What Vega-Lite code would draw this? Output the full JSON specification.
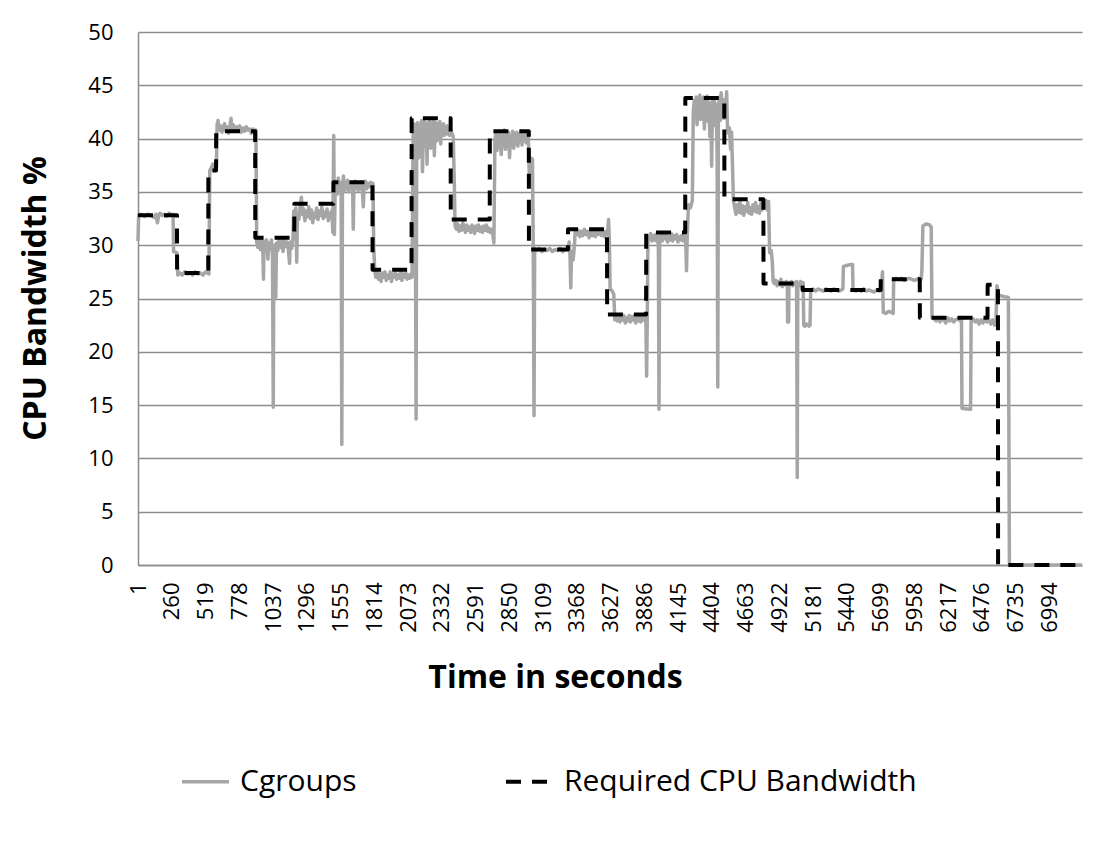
{
  "$schema": "https://vega.github.io/schema/vega-lite/v6.json",
  "width": 944,
  "height": 533,
  "autosize": {"type": "none"},
  "padding": {"left": 138, "top": 32, "right": 32, "bottom": 285},
  "background": "white",
  "config": {
    "font": "Open Sans",
    "view": {"stroke": null},
    "axis": {"labelColor": "black", "titleColor": "black"}
  },
  "data": {"values": [
{"s":"Cgroups","t":1,"v":30.4},{"s":"Cgroups","t":6,"v":32.8},{"s":"Cgroups","t":25,"v":32.9},{"s":"Cgroups","t":50,"v":32.7},{"s":"Cgroups","t":75,"v":32.9},{"s":"Cgroups","t":100,"v":32.8},{"s":"Cgroups","t":125,"v":32.6},{"s":"Cgroups","t":140,"v":32.9},{"s":"Cgroups","t":150,"v":32.1},{"s":"Cgroups","t":158,"v":32.7},{"s":"Cgroups","t":170,"v":33.0},{"s":"Cgroups","t":185,"v":32.8},{"s":"Cgroups","t":200,"v":32.9},{"s":"Cgroups","t":220,"v":32.7},{"s":"Cgroups","t":240,"v":33.0},{"s":"Cgroups","t":260,"v":32.8},{"s":"Cgroups","t":270,"v":32.9},{"s":"Cgroups","t":274,"v":29.4},{"s":"Cgroups","t":300,"v":29.3},{"s":"Cgroups","t":306,"v":27.2},
{"s":"Cgroups","t":320,"v":27.4},{"s":"Cgroups","t":340,"v":27.2},{"s":"Cgroups","t":360,"v":27.5},{"s":"Cgroups","t":380,"v":27.3},{"s":"Cgroups","t":400,"v":27.4},{"s":"Cgroups","t":420,"v":27.2},{"s":"Cgroups","t":440,"v":27.5},{"s":"Cgroups","t":460,"v":27.3},{"s":"Cgroups","t":480,"v":27.4},{"s":"Cgroups","t":500,"v":27.2},{"s":"Cgroups","t":520,"v":27.5},{"s":"Cgroups","t":545,"v":27.3},{"s":"Cgroups","t":552,"v":37.0},{"s":"Cgroups","t":565,"v":37.3},{"s":"Cgroups","t":575,"v":37.6},{"s":"Cgroups","t":590,"v":37.2},{"s":"Cgroups","t":603,"v":37.5},{"s":"Cgroups","t":608,"v":41.3},
{"s":"Cgroups","t":615,"v":41.7},{"s":"Cgroups","t":625,"v":40.8},{"s":"Cgroups","t":635,"v":41.2},{"s":"Cgroups","t":645,"v":40.6},{"s":"Cgroups","t":655,"v":41.0},{"s":"Cgroups","t":665,"v":41.4},{"s":"Cgroups","t":675,"v":40.7},{"s":"Cgroups","t":685,"v":41.1},{"s":"Cgroups","t":695,"v":40.5},{"s":"Cgroups","t":705,"v":41.0},{"s":"Cgroups","t":715,"v":41.9},{"s":"Cgroups","t":722,"v":40.9},{"s":"Cgroups","t":732,"v":41.3},{"s":"Cgroups","t":745,"v":40.7},{"s":"Cgroups","t":758,"v":41.1},{"s":"Cgroups","t":770,"v":40.8},{"s":"Cgroups","t":782,"v":41.2},{"s":"Cgroups","t":795,"v":40.6},{"s":"Cgroups","t":808,"v":41.0},{"s":"Cgroups","t":820,"v":40.7},{"s":"Cgroups","t":832,"v":41.1},{"s":"Cgroups","t":845,"v":40.8},{"s":"Cgroups","t":858,"v":40.9},{"s":"Cgroups","t":870,"v":40.5},{"s":"Cgroups","t":882,"v":40.9},{"s":"Cgroups","t":895,"v":40.6},{"s":"Cgroups","t":906,"v":40.8},{"s":"Cgroups","t":912,"v":30.3},
{"s":"Cgroups","t":920,"v":29.8},{"s":"Cgroups","t":930,"v":30.6},{"s":"Cgroups","t":940,"v":29.6},{"s":"Cgroups","t":950,"v":30.5},{"s":"Cgroups","t":958,"v":30.0},{"s":"Cgroups","t":964,"v":26.8},{"s":"Cgroups","t":968,"v":30.4},{"s":"Cgroups","t":978,"v":29.5},{"s":"Cgroups","t":988,"v":30.5},{"s":"Cgroups","t":998,"v":28.7},{"s":"Cgroups","t":1005,"v":30.2},{"s":"Cgroups","t":1015,"v":29.6},{"s":"Cgroups","t":1025,"v":30.5},{"s":"Cgroups","t":1033,"v":29.2},{"s":"Cgroups","t":1039,"v":14.8},{"s":"Cgroups","t":1044,"v":30.0},{"s":"Cgroups","t":1052,"v":29.3},{"s":"Cgroups","t":1058,"v":25.1},{"s":"Cgroups","t":1064,"v":30.2},{"s":"Cgroups","t":1074,"v":29.5},{"s":"Cgroups","t":1084,"v":30.6},{"s":"Cgroups","t":1094,"v":29.8},{"s":"Cgroups","t":1104,"v":30.4},{"s":"Cgroups","t":1114,"v":29.4},{"s":"Cgroups","t":1124,"v":30.5},{"s":"Cgroups","t":1134,"v":29.9},{"s":"Cgroups","t":1144,"v":30.3},{"s":"Cgroups","t":1154,"v":29.6},{"s":"Cgroups","t":1164,"v":28.3},{"s":"Cgroups","t":1170,"v":30.3},{"s":"Cgroups","t":1180,"v":29.7},{"s":"Cgroups","t":1190,"v":30.6},{"s":"Cgroups","t":1196,"v":33.2},
{"s":"Cgroups","t":1205,"v":32.8},{"s":"Cgroups","t":1212,"v":33.5},{"s":"Cgroups","t":1219,"v":28.4},{"s":"Cgroups","t":1225,"v":33.0},{"s":"Cgroups","t":1235,"v":32.4},{"s":"Cgroups","t":1245,"v":33.6},{"s":"Cgroups","t":1255,"v":34.5},{"s":"Cgroups","t":1262,"v":32.9},{"s":"Cgroups","t":1272,"v":33.4},{"s":"Cgroups","t":1282,"v":32.3},{"s":"Cgroups","t":1292,"v":33.2},{"s":"Cgroups","t":1302,"v":32.7},{"s":"Cgroups","t":1312,"v":33.6},{"s":"Cgroups","t":1322,"v":32.5},{"s":"Cgroups","t":1332,"v":33.3},{"s":"Cgroups","t":1342,"v":32.1},{"s":"Cgroups","t":1352,"v":33.0},{"s":"Cgroups","t":1362,"v":32.6},{"s":"Cgroups","t":1372,"v":33.5},{"s":"Cgroups","t":1382,"v":32.4},{"s":"Cgroups","t":1392,"v":33.2},{"s":"Cgroups","t":1402,"v":32.8},{"s":"Cgroups","t":1412,"v":33.6},{"s":"Cgroups","t":1422,"v":32.5},{"s":"Cgroups","t":1432,"v":33.1},{"s":"Cgroups","t":1442,"v":32.7},{"s":"Cgroups","t":1452,"v":33.4},{"s":"Cgroups","t":1462,"v":32.3},{"s":"Cgroups","t":1472,"v":33.0},{"s":"Cgroups","t":1482,"v":32.6},{"s":"Cgroups","t":1490,"v":33.3},{"s":"Cgroups","t":1496,"v":31.2},{"s":"Cgroups","t":1503,"v":40.3},{"s":"Cgroups","t":1508,"v":31.0},{"s":"Cgroups","t":1514,"v":35.0},
{"s":"Cgroups","t":1522,"v":35.6},{"s":"Cgroups","t":1530,"v":34.8},{"s":"Cgroups","t":1538,"v":36.3},{"s":"Cgroups","t":1546,"v":35.2},{"s":"Cgroups","t":1554,"v":35.9},{"s":"Cgroups","t":1560,"v":34.6},{"s":"Cgroups","t":1565,"v":11.3},{"s":"Cgroups","t":1570,"v":35.4},{"s":"Cgroups","t":1578,"v":36.5},{"s":"Cgroups","t":1586,"v":35.1},{"s":"Cgroups","t":1594,"v":35.8},{"s":"Cgroups","t":1602,"v":35.3},{"s":"Cgroups","t":1610,"v":36.1},{"s":"Cgroups","t":1618,"v":35.0},{"s":"Cgroups","t":1626,"v":35.7},{"s":"Cgroups","t":1634,"v":35.4},{"s":"Cgroups","t":1642,"v":35.8},{"s":"Cgroups","t":1648,"v":35.2},{"s":"Cgroups","t":1653,"v":31.5},{"s":"Cgroups","t":1658,"v":35.6},{"s":"Cgroups","t":1666,"v":36.0},{"s":"Cgroups","t":1674,"v":35.4},{"s":"Cgroups","t":1682,"v":35.9},{"s":"Cgroups","t":1690,"v":35.1},{"s":"Cgroups","t":1698,"v":35.7},{"s":"Cgroups","t":1706,"v":35.3},{"s":"Cgroups","t":1714,"v":35.9},{"s":"Cgroups","t":1722,"v":35.2},{"s":"Cgroups","t":1730,"v":33.6},{"s":"Cgroups","t":1736,"v":35.6},{"s":"Cgroups","t":1746,"v":36.0},{"s":"Cgroups","t":1756,"v":35.3},{"s":"Cgroups","t":1766,"v":35.8},{"s":"Cgroups","t":1776,"v":35.5},{"s":"Cgroups","t":1786,"v":35.9},{"s":"Cgroups","t":1796,"v":35.6},{"s":"Cgroups","t":1804,"v":35.8},{"s":"Cgroups","t":1810,"v":29.8},{"s":"Cgroups","t":1818,"v":27.6},
{"s":"Cgroups","t":1826,"v":27.0},{"s":"Cgroups","t":1836,"v":27.5},{"s":"Cgroups","t":1846,"v":26.8},{"s":"Cgroups","t":1856,"v":27.3},{"s":"Cgroups","t":1866,"v":26.6},{"s":"Cgroups","t":1876,"v":27.4},{"s":"Cgroups","t":1886,"v":27.0},{"s":"Cgroups","t":1896,"v":27.5},{"s":"Cgroups","t":1906,"v":26.7},{"s":"Cgroups","t":1916,"v":27.2},{"s":"Cgroups","t":1926,"v":26.9},{"s":"Cgroups","t":1936,"v":27.5},{"s":"Cgroups","t":1946,"v":26.6},{"s":"Cgroups","t":1956,"v":27.3},{"s":"Cgroups","t":1966,"v":27.0},{"s":"Cgroups","t":1976,"v":27.4},{"s":"Cgroups","t":1986,"v":26.8},{"s":"Cgroups","t":1996,"v":27.2},{"s":"Cgroups","t":2006,"v":26.9},{"s":"Cgroups","t":2016,"v":27.5},{"s":"Cgroups","t":2026,"v":26.7},{"s":"Cgroups","t":2036,"v":27.3},{"s":"Cgroups","t":2046,"v":27.0},{"s":"Cgroups","t":2056,"v":27.4},{"s":"Cgroups","t":2066,"v":26.8},{"s":"Cgroups","t":2076,"v":27.2},{"s":"Cgroups","t":2086,"v":26.9},{"s":"Cgroups","t":2096,"v":27.3},{"s":"Cgroups","t":2104,"v":27.0},{"s":"Cgroups","t":2112,"v":40.2},{"s":"Cgroups","t":2120,"v":41.4},{"s":"Cgroups","t":2128,"v":37.5},{"s":"Cgroups","t":2135,"v":13.7},{"s":"Cgroups","t":2140,"v":40.8},
{"s":"Cgroups","t":2148,"v":41.5},{"s":"Cgroups","t":2155,"v":38.2},{"s":"Cgroups","t":2162,"v":41.2},{"s":"Cgroups","t":2170,"v":39.8},{"s":"Cgroups","t":2177,"v":41.7},{"s":"Cgroups","t":2184,"v":36.9},{"s":"Cgroups","t":2191,"v":40.9},{"s":"Cgroups","t":2198,"v":41.6},{"s":"Cgroups","t":2205,"v":39.3},{"s":"Cgroups","t":2212,"v":41.3},{"s":"Cgroups","t":2219,"v":37.6},{"s":"Cgroups","t":2226,"v":41.5},{"s":"Cgroups","t":2233,"v":40.3},{"s":"Cgroups","t":2240,"v":41.8},{"s":"Cgroups","t":2247,"v":39.1},{"s":"Cgroups","t":2254,"v":41.2},{"s":"Cgroups","t":2261,"v":40.4},{"s":"Cgroups","t":2268,"v":41.6},{"s":"Cgroups","t":2275,"v":38.4},{"s":"Cgroups","t":2282,"v":41.0},{"s":"Cgroups","t":2289,"v":41.5},{"s":"Cgroups","t":2296,"v":39.8},{"s":"Cgroups","t":2303,"v":41.3},{"s":"Cgroups","t":2310,"v":40.6},{"s":"Cgroups","t":2317,"v":41.6},{"s":"Cgroups","t":2324,"v":39.5},{"s":"Cgroups","t":2331,"v":41.1},{"s":"Cgroups","t":2338,"v":40.7},{"s":"Cgroups","t":2345,"v":41.4},{"s":"Cgroups","t":2352,"v":40.3},{"s":"Cgroups","t":2359,"v":41.0},{"s":"Cgroups","t":2366,"v":40.5},{"s":"Cgroups","t":2373,"v":41.2},{"s":"Cgroups","t":2380,"v":40.4},{"s":"Cgroups","t":2387,"v":40.9},{"s":"Cgroups","t":2394,"v":40.3},{"s":"Cgroups","t":2401,"v":40.8},{"s":"Cgroups","t":2410,"v":40.5},{"s":"Cgroups","t":2420,"v":40.2},{"s":"Cgroups","t":2428,"v":36.0},{"s":"Cgroups","t":2434,"v":31.8},
{"s":"Cgroups","t":2444,"v":31.5},{"s":"Cgroups","t":2454,"v":32.0},{"s":"Cgroups","t":2464,"v":31.3},{"s":"Cgroups","t":2474,"v":31.8},{"s":"Cgroups","t":2484,"v":31.4},{"s":"Cgroups","t":2494,"v":32.1},{"s":"Cgroups","t":2504,"v":31.6},{"s":"Cgroups","t":2514,"v":31.2},{"s":"Cgroups","t":2524,"v":31.9},{"s":"Cgroups","t":2534,"v":31.4},{"s":"Cgroups","t":2544,"v":31.7},{"s":"Cgroups","t":2554,"v":31.2},{"s":"Cgroups","t":2564,"v":31.9},{"s":"Cgroups","t":2574,"v":31.5},{"s":"Cgroups","t":2584,"v":31.1},{"s":"Cgroups","t":2594,"v":31.8},{"s":"Cgroups","t":2604,"v":31.4},{"s":"Cgroups","t":2614,"v":31.9},{"s":"Cgroups","t":2624,"v":31.3},{"s":"Cgroups","t":2634,"v":31.7},{"s":"Cgroups","t":2644,"v":31.2},{"s":"Cgroups","t":2654,"v":31.8},{"s":"Cgroups","t":2664,"v":31.4},{"s":"Cgroups","t":2674,"v":31.9},{"s":"Cgroups","t":2684,"v":31.3},{"s":"Cgroups","t":2694,"v":31.6},{"s":"Cgroups","t":2704,"v":31.2},{"s":"Cgroups","t":2714,"v":31.5},{"s":"Cgroups","t":2724,"v":31.0},{"s":"Cgroups","t":2732,"v":30.2},{"s":"Cgroups","t":2740,"v":39.8},
{"s":"Cgroups","t":2748,"v":40.6},{"s":"Cgroups","t":2756,"v":38.9},{"s":"Cgroups","t":2764,"v":40.3},{"s":"Cgroups","t":2772,"v":39.2},{"s":"Cgroups","t":2780,"v":40.7},{"s":"Cgroups","t":2788,"v":38.5},{"s":"Cgroups","t":2796,"v":40.1},{"s":"Cgroups","t":2804,"v":39.6},{"s":"Cgroups","t":2812,"v":40.8},{"s":"Cgroups","t":2820,"v":39.0},{"s":"Cgroups","t":2828,"v":40.4},{"s":"Cgroups","t":2836,"v":39.4},{"s":"Cgroups","t":2844,"v":40.6},{"s":"Cgroups","t":2852,"v":38.2},{"s":"Cgroups","t":2860,"v":40.2},{"s":"Cgroups","t":2868,"v":39.7},{"s":"Cgroups","t":2876,"v":40.7},{"s":"Cgroups","t":2884,"v":39.1},{"s":"Cgroups","t":2892,"v":40.5},{"s":"Cgroups","t":2900,"v":39.5},{"s":"Cgroups","t":2908,"v":40.6},{"s":"Cgroups","t":2916,"v":39.3},{"s":"Cgroups","t":2924,"v":40.4},{"s":"Cgroups","t":2932,"v":39.8},{"s":"Cgroups","t":2940,"v":40.7},{"s":"Cgroups","t":2948,"v":39.4},{"s":"Cgroups","t":2956,"v":40.3},{"s":"Cgroups","t":2964,"v":39.9},{"s":"Cgroups","t":2972,"v":40.6},{"s":"Cgroups","t":2980,"v":39.6},{"s":"Cgroups","t":2988,"v":40.5},{"s":"Cgroups","t":2996,"v":40.2},{"s":"Cgroups","t":3004,"v":36.4},{"s":"Cgroups","t":3012,"v":38.2},{"s":"Cgroups","t":3020,"v":37.6},{"s":"Cgroups","t":3028,"v":38.1},{"s":"Cgroups","t":3034,"v":29.8},{"s":"Cgroups","t":3040,"v":14.0},{"s":"Cgroups","t":3045,"v":29.7},
{"s":"Cgroups","t":3060,"v":29.5},{"s":"Cgroups","t":3080,"v":29.7},{"s":"Cgroups","t":3100,"v":29.4},{"s":"Cgroups","t":3120,"v":29.6},{"s":"Cgroups","t":3140,"v":29.5},{"s":"Cgroups","t":3160,"v":29.7},{"s":"Cgroups","t":3180,"v":29.4},{"s":"Cgroups","t":3200,"v":29.6},{"s":"Cgroups","t":3220,"v":29.5},{"s":"Cgroups","t":3240,"v":29.7},{"s":"Cgroups","t":3260,"v":29.4},{"s":"Cgroups","t":3280,"v":29.6},{"s":"Cgroups","t":3300,"v":29.6},{"s":"Cgroups","t":3310,"v":30.3},{"s":"Cgroups","t":3316,"v":29.1},{"s":"Cgroups","t":3322,"v":26.0},{"s":"Cgroups","t":3328,"v":29.4},{"s":"Cgroups","t":3340,"v":28.6},{"s":"Cgroups","t":3350,"v":30.0},{"s":"Cgroups","t":3356,"v":31.3},
{"s":"Cgroups","t":3366,"v":31.0},{"s":"Cgroups","t":3378,"v":31.4},{"s":"Cgroups","t":3390,"v":30.8},{"s":"Cgroups","t":3402,"v":31.3},{"s":"Cgroups","t":3414,"v":30.9},{"s":"Cgroups","t":3426,"v":31.5},{"s":"Cgroups","t":3438,"v":31.0},{"s":"Cgroups","t":3450,"v":31.3},{"s":"Cgroups","t":3462,"v":30.7},{"s":"Cgroups","t":3474,"v":31.2},{"s":"Cgroups","t":3486,"v":30.9},{"s":"Cgroups","t":3498,"v":31.4},{"s":"Cgroups","t":3510,"v":30.8},{"s":"Cgroups","t":3522,"v":31.3},{"s":"Cgroups","t":3534,"v":31.0},{"s":"Cgroups","t":3546,"v":31.5},{"s":"Cgroups","t":3558,"v":30.9},{"s":"Cgroups","t":3570,"v":31.2},{"s":"Cgroups","t":3582,"v":30.8},{"s":"Cgroups","t":3594,"v":31.3},{"s":"Cgroups","t":3604,"v":31.0},{"s":"Cgroups","t":3612,"v":32.4},{"s":"Cgroups","t":3618,"v":30.5},{"s":"Cgroups","t":3624,"v":25.9},{"s":"Cgroups","t":3640,"v":25.7},{"s":"Cgroups","t":3652,"v":25.4},{"s":"Cgroups","t":3660,"v":23.0},
{"s":"Cgroups","t":3670,"v":23.3},{"s":"Cgroups","t":3680,"v":22.9},{"s":"Cgroups","t":3690,"v":23.4},{"s":"Cgroups","t":3700,"v":22.8},{"s":"Cgroups","t":3710,"v":23.3},{"s":"Cgroups","t":3720,"v":23.0},{"s":"Cgroups","t":3730,"v":23.4},{"s":"Cgroups","t":3740,"v":22.7},{"s":"Cgroups","t":3750,"v":23.2},{"s":"Cgroups","t":3760,"v":22.9},{"s":"Cgroups","t":3770,"v":23.4},{"s":"Cgroups","t":3780,"v":22.8},{"s":"Cgroups","t":3790,"v":23.3},{"s":"Cgroups","t":3800,"v":23.0},{"s":"Cgroups","t":3810,"v":23.4},{"s":"Cgroups","t":3820,"v":22.7},{"s":"Cgroups","t":3830,"v":23.2},{"s":"Cgroups","t":3840,"v":22.9},{"s":"Cgroups","t":3850,"v":23.4},{"s":"Cgroups","t":3860,"v":22.8},{"s":"Cgroups","t":3870,"v":23.3},{"s":"Cgroups","t":3880,"v":23.0},{"s":"Cgroups","t":3890,"v":23.4},{"s":"Cgroups","t":3898,"v":23.1},{"s":"Cgroups","t":3904,"v":17.7},{"s":"Cgroups","t":3909,"v":23.0},{"s":"Cgroups","t":3914,"v":30.4},
{"s":"Cgroups","t":3924,"v":30.7},{"s":"Cgroups","t":3934,"v":31.1},{"s":"Cgroups","t":3944,"v":30.4},{"s":"Cgroups","t":3954,"v":30.9},{"s":"Cgroups","t":3964,"v":30.5},{"s":"Cgroups","t":3974,"v":31.0},{"s":"Cgroups","t":3984,"v":30.3},{"s":"Cgroups","t":3994,"v":30.8},{"s":"Cgroups","t":3999,"v":14.6},{"s":"Cgroups","t":4004,"v":30.7},{"s":"Cgroups","t":4014,"v":31.1},{"s":"Cgroups","t":4024,"v":30.4},{"s":"Cgroups","t":4034,"v":30.9},{"s":"Cgroups","t":4044,"v":30.6},{"s":"Cgroups","t":4054,"v":31.0},{"s":"Cgroups","t":4064,"v":30.3},{"s":"Cgroups","t":4074,"v":30.8},{"s":"Cgroups","t":4084,"v":30.5},{"s":"Cgroups","t":4094,"v":31.1},{"s":"Cgroups","t":4104,"v":30.4},{"s":"Cgroups","t":4114,"v":30.9},{"s":"Cgroups","t":4124,"v":30.6},{"s":"Cgroups","t":4134,"v":31.0},{"s":"Cgroups","t":4144,"v":30.3},{"s":"Cgroups","t":4154,"v":30.8},{"s":"Cgroups","t":4164,"v":30.5},{"s":"Cgroups","t":4174,"v":30.9},{"s":"Cgroups","t":4184,"v":30.4},{"s":"Cgroups","t":4194,"v":30.8},{"s":"Cgroups","t":4204,"v":30.5},{"s":"Cgroups","t":4210,"v":27.6},{"s":"Cgroups","t":4216,"v":31.0},{"s":"Cgroups","t":4225,"v":33.8},{"s":"Cgroups","t":4240,"v":33.5},{"s":"Cgroups","t":4255,"v":34.2},{"s":"Cgroups","t":4262,"v":42.5},
{"s":"Cgroups","t":4270,"v":43.6},{"s":"Cgroups","t":4277,"v":42.0},{"s":"Cgroups","t":4284,"v":43.9},{"s":"Cgroups","t":4291,"v":41.3},{"s":"Cgroups","t":4298,"v":43.2},{"s":"Cgroups","t":4305,"v":42.6},{"s":"Cgroups","t":4312,"v":44.1},{"s":"Cgroups","t":4319,"v":41.8},{"s":"Cgroups","t":4326,"v":43.5},{"s":"Cgroups","t":4333,"v":42.2},{"s":"Cgroups","t":4340,"v":43.9},{"s":"Cgroups","t":4347,"v":40.9},{"s":"Cgroups","t":4354,"v":43.3},{"s":"Cgroups","t":4361,"v":42.7},{"s":"Cgroups","t":4368,"v":44.0},{"s":"Cgroups","t":4375,"v":41.6},{"s":"Cgroups","t":4382,"v":43.4},{"s":"Cgroups","t":4389,"v":40.2},{"s":"Cgroups","t":4396,"v":43.0},{"s":"Cgroups","t":4403,"v":37.4},{"s":"Cgroups","t":4410,"v":43.8},{"s":"Cgroups","t":4417,"v":41.2},{"s":"Cgroups","t":4424,"v":43.6},{"s":"Cgroups","t":4431,"v":42.0},{"s":"Cgroups","t":4438,"v":43.2},{"s":"Cgroups","t":4445,"v":38.5},{"s":"Cgroups","t":4450,"v":16.7},{"s":"Cgroups","t":4455,"v":42.8},{"s":"Cgroups","t":4462,"v":43.9},{"s":"Cgroups","t":4469,"v":41.7},{"s":"Cgroups","t":4476,"v":44.3},{"s":"Cgroups","t":4483,"v":42.5},{"s":"Cgroups","t":4490,"v":43.7},{"s":"Cgroups","t":4497,"v":41.9},{"s":"Cgroups","t":4504,"v":43.5},{"s":"Cgroups","t":4511,"v":42.8},{"s":"Cgroups","t":4518,"v":44.4},{"s":"Cgroups","t":4525,"v":40.9},{"s":"Cgroups","t":4532,"v":40.5},{"s":"Cgroups","t":4540,"v":41.0},{"s":"Cgroups","t":4548,"v":39.0},{"s":"Cgroups","t":4556,"v":40.6},{"s":"Cgroups","t":4563,"v":37.5},{"s":"Cgroups","t":4570,"v":34.2},
{"s":"Cgroups","t":4580,"v":33.5},{"s":"Cgroups","t":4590,"v":32.9},{"s":"Cgroups","t":4600,"v":33.8},{"s":"Cgroups","t":4610,"v":33.1},{"s":"Cgroups","t":4620,"v":34.1},{"s":"Cgroups","t":4630,"v":33.0},{"s":"Cgroups","t":4640,"v":33.7},{"s":"Cgroups","t":4650,"v":32.8},{"s":"Cgroups","t":4660,"v":33.6},{"s":"Cgroups","t":4670,"v":33.2},{"s":"Cgroups","t":4680,"v":34.0},{"s":"Cgroups","t":4690,"v":33.0},{"s":"Cgroups","t":4700,"v":33.5},{"s":"Cgroups","t":4710,"v":32.9},{"s":"Cgroups","t":4720,"v":33.8},{"s":"Cgroups","t":4730,"v":33.2},{"s":"Cgroups","t":4740,"v":34.0},{"s":"Cgroups","t":4750,"v":33.1},{"s":"Cgroups","t":4760,"v":33.6},{"s":"Cgroups","t":4770,"v":33.0},{"s":"Cgroups","t":4780,"v":33.9},{"s":"Cgroups","t":4790,"v":33.3},{"s":"Cgroups","t":4800,"v":33.8},{"s":"Cgroups","t":4810,"v":33.5},{"s":"Cgroups","t":4820,"v":34.2},{"s":"Cgroups","t":4830,"v":33.3},{"s":"Cgroups","t":4840,"v":34.1},{"s":"Cgroups","t":4848,"v":29.3},{"s":"Cgroups","t":4860,"v":29.5},{"s":"Cgroups","t":4868,"v":28.5},{"s":"Cgroups","t":4875,"v":26.6},
{"s":"Cgroups","t":4885,"v":26.4},{"s":"Cgroups","t":4895,"v":26.7},{"s":"Cgroups","t":4905,"v":26.2},{"s":"Cgroups","t":4915,"v":26.6},{"s":"Cgroups","t":4925,"v":26.3},{"s":"Cgroups","t":4935,"v":26.8},{"s":"Cgroups","t":4945,"v":26.1},{"s":"Cgroups","t":4955,"v":26.5},{"s":"Cgroups","t":4965,"v":26.3},{"s":"Cgroups","t":4975,"v":26.6},{"s":"Cgroups","t":4984,"v":26.4},{"s":"Cgroups","t":4986,"v":22.8},{"s":"Cgroups","t":4994,"v":22.8},{"s":"Cgroups","t":4996,"v":26.5},{"s":"Cgroups","t":5005,"v":26.3},{"s":"Cgroups","t":5015,"v":26.6},{"s":"Cgroups","t":5025,"v":26.2},{"s":"Cgroups","t":5035,"v":26.5},{"s":"Cgroups","t":5045,"v":26.3},{"s":"Cgroups","t":5055,"v":26.6},{"s":"Cgroups","t":5060,"v":8.2},{"s":"Cgroups","t":5064,"v":26.4},{"s":"Cgroups","t":5075,"v":26.2},{"s":"Cgroups","t":5085,"v":26.6},{"s":"Cgroups","t":5095,"v":26.3},{"s":"Cgroups","t":5105,"v":26.5},{"s":"Cgroups","t":5110,"v":22.5},{"s":"Cgroups","t":5118,"v":22.4},{"s":"Cgroups","t":5126,"v":22.6},{"s":"Cgroups","t":5134,"v":22.5},{"s":"Cgroups","t":5142,"v":22.6},{"s":"Cgroups","t":5150,"v":22.4},{"s":"Cgroups","t":5158,"v":22.5},{"s":"Cgroups","t":5163,"v":25.8},
{"s":"Cgroups","t":5180,"v":25.9},{"s":"Cgroups","t":5200,"v":25.7},{"s":"Cgroups","t":5220,"v":25.9},{"s":"Cgroups","t":5240,"v":25.8},{"s":"Cgroups","t":5260,"v":25.7},{"s":"Cgroups","t":5280,"v":25.9},{"s":"Cgroups","t":5300,"v":25.8},{"s":"Cgroups","t":5320,"v":25.7},{"s":"Cgroups","t":5340,"v":25.9},{"s":"Cgroups","t":5360,"v":25.8},{"s":"Cgroups","t":5380,"v":25.7},{"s":"Cgroups","t":5400,"v":25.8},{"s":"Cgroups","t":5410,"v":25.9},{"s":"Cgroups","t":5414,"v":28.0},{"s":"Cgroups","t":5440,"v":28.1},{"s":"Cgroups","t":5470,"v":28.2},{"s":"Cgroups","t":5484,"v":28.2},{"s":"Cgroups","t":5488,"v":25.8},{"s":"Cgroups","t":5510,"v":25.7},{"s":"Cgroups","t":5530,"v":25.8},{"s":"Cgroups","t":5550,"v":25.7},{"s":"Cgroups","t":5570,"v":25.9},{"s":"Cgroups","t":5590,"v":25.7},{"s":"Cgroups","t":5610,"v":25.8},{"s":"Cgroups","t":5630,"v":25.7},{"s":"Cgroups","t":5650,"v":25.6},{"s":"Cgroups","t":5670,"v":25.8},{"s":"Cgroups","t":5690,"v":25.7},{"s":"Cgroups","t":5700,"v":25.8},{"s":"Cgroups","t":5708,"v":26.5},{"s":"Cgroups","t":5714,"v":27.5},{"s":"Cgroups","t":5720,"v":23.7},{"s":"Cgroups","t":5740,"v":23.6},{"s":"Cgroups","t":5760,"v":23.8},{"s":"Cgroups","t":5780,"v":23.7},{"s":"Cgroups","t":5796,"v":23.6},{"s":"Cgroups","t":5800,"v":26.8},
{"s":"Cgroups","t":5820,"v":26.9},{"s":"Cgroups","t":5840,"v":26.8},{"s":"Cgroups","t":5860,"v":26.9},{"s":"Cgroups","t":5880,"v":26.7},{"s":"Cgroups","t":5900,"v":26.8},{"s":"Cgroups","t":5920,"v":26.9},{"s":"Cgroups","t":5940,"v":26.8},{"s":"Cgroups","t":5960,"v":26.7},{"s":"Cgroups","t":5980,"v":26.8},{"s":"Cgroups","t":6000,"v":26.9},{"s":"Cgroups","t":6010,"v":26.8},{"s":"Cgroups","t":6016,"v":27.5},{"s":"Cgroups","t":6024,"v":31.8},{"s":"Cgroups","t":6050,"v":32.0},{"s":"Cgroups","t":6075,"v":31.9},{"s":"Cgroups","t":6088,"v":31.7},{"s":"Cgroups","t":6094,"v":23.2},
{"s":"Cgroups","t":6110,"v":23.1},{"s":"Cgroups","t":6125,"v":22.9},{"s":"Cgroups","t":6140,"v":23.2},{"s":"Cgroups","t":6155,"v":22.8},{"s":"Cgroups","t":6170,"v":23.1},{"s":"Cgroups","t":6185,"v":23.0},{"s":"Cgroups","t":6200,"v":22.7},{"s":"Cgroups","t":6215,"v":23.2},{"s":"Cgroups","t":6230,"v":22.9},{"s":"Cgroups","t":6245,"v":23.1},{"s":"Cgroups","t":6260,"v":22.8},{"s":"Cgroups","t":6275,"v":23.0},{"s":"Cgroups","t":6290,"v":23.1},{"s":"Cgroups","t":6310,"v":22.9},{"s":"Cgroups","t":6320,"v":23.0},{"s":"Cgroups","t":6324,"v":14.7},{"s":"Cgroups","t":6390,"v":14.6},{"s":"Cgroups","t":6394,"v":22.9},{"s":"Cgroups","t":6410,"v":23.1},{"s":"Cgroups","t":6425,"v":22.8},{"s":"Cgroups","t":6440,"v":23.0},{"s":"Cgroups","t":6455,"v":22.6},{"s":"Cgroups","t":6470,"v":23.0},{"s":"Cgroups","t":6485,"v":22.7},{"s":"Cgroups","t":6500,"v":23.1},{"s":"Cgroups","t":6515,"v":22.8},{"s":"Cgroups","t":6530,"v":23.0},{"s":"Cgroups","t":6545,"v":22.6},{"s":"Cgroups","t":6560,"v":23.0},{"s":"Cgroups","t":6575,"v":22.5},{"s":"Cgroups","t":6585,"v":22.9},{"s":"Cgroups","t":6592,"v":26.2},{"s":"Cgroups","t":6605,"v":25.3},{"s":"Cgroups","t":6640,"v":25.2},{"s":"Cgroups","t":6680,"v":25.1},{"s":"Cgroups","t":6688,"v":0},{"s":"Cgroups","t":7245,"v":0},
{"s":"Required CPU Bandwidth","t":1,"v":32.8},{"s":"Required CPU Bandwidth","t":300,"v":32.8},{"s":"Required CPU Bandwidth","t":301,"v":27.4},{"s":"Required CPU Bandwidth","t":540,"v":27.4},{"s":"Required CPU Bandwidth","t":541,"v":37.0},{"s":"Required CPU Bandwidth","t":600,"v":37.0},{"s":"Required CPU Bandwidth","t":601,"v":40.7},{"s":"Required CPU Bandwidth","t":900,"v":40.7},{"s":"Required CPU Bandwidth","t":901,"v":30.7},{"s":"Required CPU Bandwidth","t":1200,"v":30.7},{"s":"Required CPU Bandwidth","t":1201,"v":33.9},{"s":"Required CPU Bandwidth","t":1500,"v":33.9},{"s":"Required CPU Bandwidth","t":1501,"v":35.9},{"s":"Required CPU Bandwidth","t":1800,"v":35.9},{"s":"Required CPU Bandwidth","t":1801,"v":27.7},{"s":"Required CPU Bandwidth","t":2100,"v":27.7},{"s":"Required CPU Bandwidth","t":2101,"v":41.9},{"s":"Required CPU Bandwidth","t":2400,"v":41.9},{"s":"Required CPU Bandwidth","t":2401,"v":32.4},{"s":"Required CPU Bandwidth","t":2700,"v":32.4},{"s":"Required CPU Bandwidth","t":2701,"v":40.7},{"s":"Required CPU Bandwidth","t":3000,"v":40.7},{"s":"Required CPU Bandwidth","t":3001,"v":29.6},{"s":"Required CPU Bandwidth","t":3300,"v":29.6},{"s":"Required CPU Bandwidth","t":3301,"v":31.5},{"s":"Required CPU Bandwidth","t":3600,"v":31.5},{"s":"Required CPU Bandwidth","t":3601,"v":23.5},{"s":"Required CPU Bandwidth","t":3900,"v":23.5},{"s":"Required CPU Bandwidth","t":3901,"v":31.2},{"s":"Required CPU Bandwidth","t":4200,"v":31.2},{"s":"Required CPU Bandwidth","t":4201,"v":43.8},{"s":"Required CPU Bandwidth","t":4500,"v":43.8},{"s":"Required CPU Bandwidth","t":4501,"v":34.3},{"s":"Required CPU Bandwidth","t":4800,"v":34.3},{"s":"Required CPU Bandwidth","t":4801,"v":26.4},{"s":"Required CPU Bandwidth","t":5100,"v":26.4},{"s":"Required CPU Bandwidth","t":5101,"v":25.8},{"s":"Required CPU Bandwidth","t":5700,"v":25.8},{"s":"Required CPU Bandwidth","t":5701,"v":26.8},{"s":"Required CPU Bandwidth","t":6000,"v":26.8},{"s":"Required CPU Bandwidth","t":6001,"v":23.2},{"s":"Required CPU Bandwidth","t":6520,"v":23.2},{"s":"Required CPU Bandwidth","t":6521,"v":26.3},{"s":"Required CPU Bandwidth","t":6600,"v":26.3},{"s":"Required CPU Bandwidth","t":6601,"v":0},{"s":"Required CPU Bandwidth","t":7245,"v":0}
  ]},
  "encoding": {
    "x": {
      "field": "t", "type": "quantitative",
      "scale": {"domain": [1, 7245], "nice": false, "zero": false},
      "axis": {
        "title": "Time in seconds",
        "format": "d",
        "values": [1,260,519,778,1037,1296,1555,1814,2073,2332,2591,2850,3109,3368,3627,3886,4145,4404,4663,4922,5181,5440,5699,5958,6217,6476,6735,6994],
        "labelAngle": -90, "labelFontSize": 22, "labelPadding": 17, "labelOverlap": false, "labelFlush": false,
        "grid": false, "ticks": false, "tickSize": 0,
        "domainColor": "#8c8c8c", "domainWidth": 1.5,
        "titleFontSize": 32, "titleFontWeight": "bold", "titleX": 417, "titleY": 122, "titleBaseline": "alphabetic", "titleAlign": "center", "titleAnchor": null
      }
    },
    "y": {
      "field": "v", "type": "quantitative",
      "scale": {"domain": [0, 50], "nice": false},
      "axis": {
        "title": "CPU Bandwidth %",
        "values": [0,5,10,15,20,25,30,35,40,45,50],
        "labelFontSize": 22, "labelPadding": 25, "labelFlush": false,
        "grid": true, "gridColor": "#8c8c8c", "gridWidth": 1.5,
        "ticks": false, "tickSize": 0,
        "domainColor": "#8c8c8c", "domainWidth": 1.5,
        "titleFontSize": 32, "titleFontWeight": "bold", "titleX": -93, "titleY": 266, "titleBaseline": "alphabetic", "titleAlign": "center", "titleAngle": -90
      }
    },
    "color": {
      "field": "s", "type": "nominal",
      "scale": {"domain": ["Cgroups", "Required CPU Bandwidth"], "range": ["#a6a6a6", "#000000"]},
      "legend": {
        "title": null, "orient": "none", "legendX": 42, "legendY": 724,
        "direction": "horizontal", "columns": 2, "columnPadding": 141,
        "symbolType": "stroke", "symbolSize": 2209, "symbolStrokeWidth": 4,
        "labelFontSize": 30, "labelOffset": 9, "labelColor": "black", "labelLimit": 600
      }
    },
    "strokeDash": {
      "field": "s", "type": "nominal",
      "scale": {"domain": ["Cgroups", "Required CPU Bandwidth"], "range": [[1, 0], [15, 11]]},
      "legend": null
    },
    "strokeWidth": {
      "field": "s", "type": "nominal",
      "scale": {"domain": ["Cgroups", "Required CPU Bandwidth"], "range": [3.5, 4]},
      "legend": null
    }
  },
  "mark": {"type": "line", "strokeJoin": "round", "clip": false}
}
